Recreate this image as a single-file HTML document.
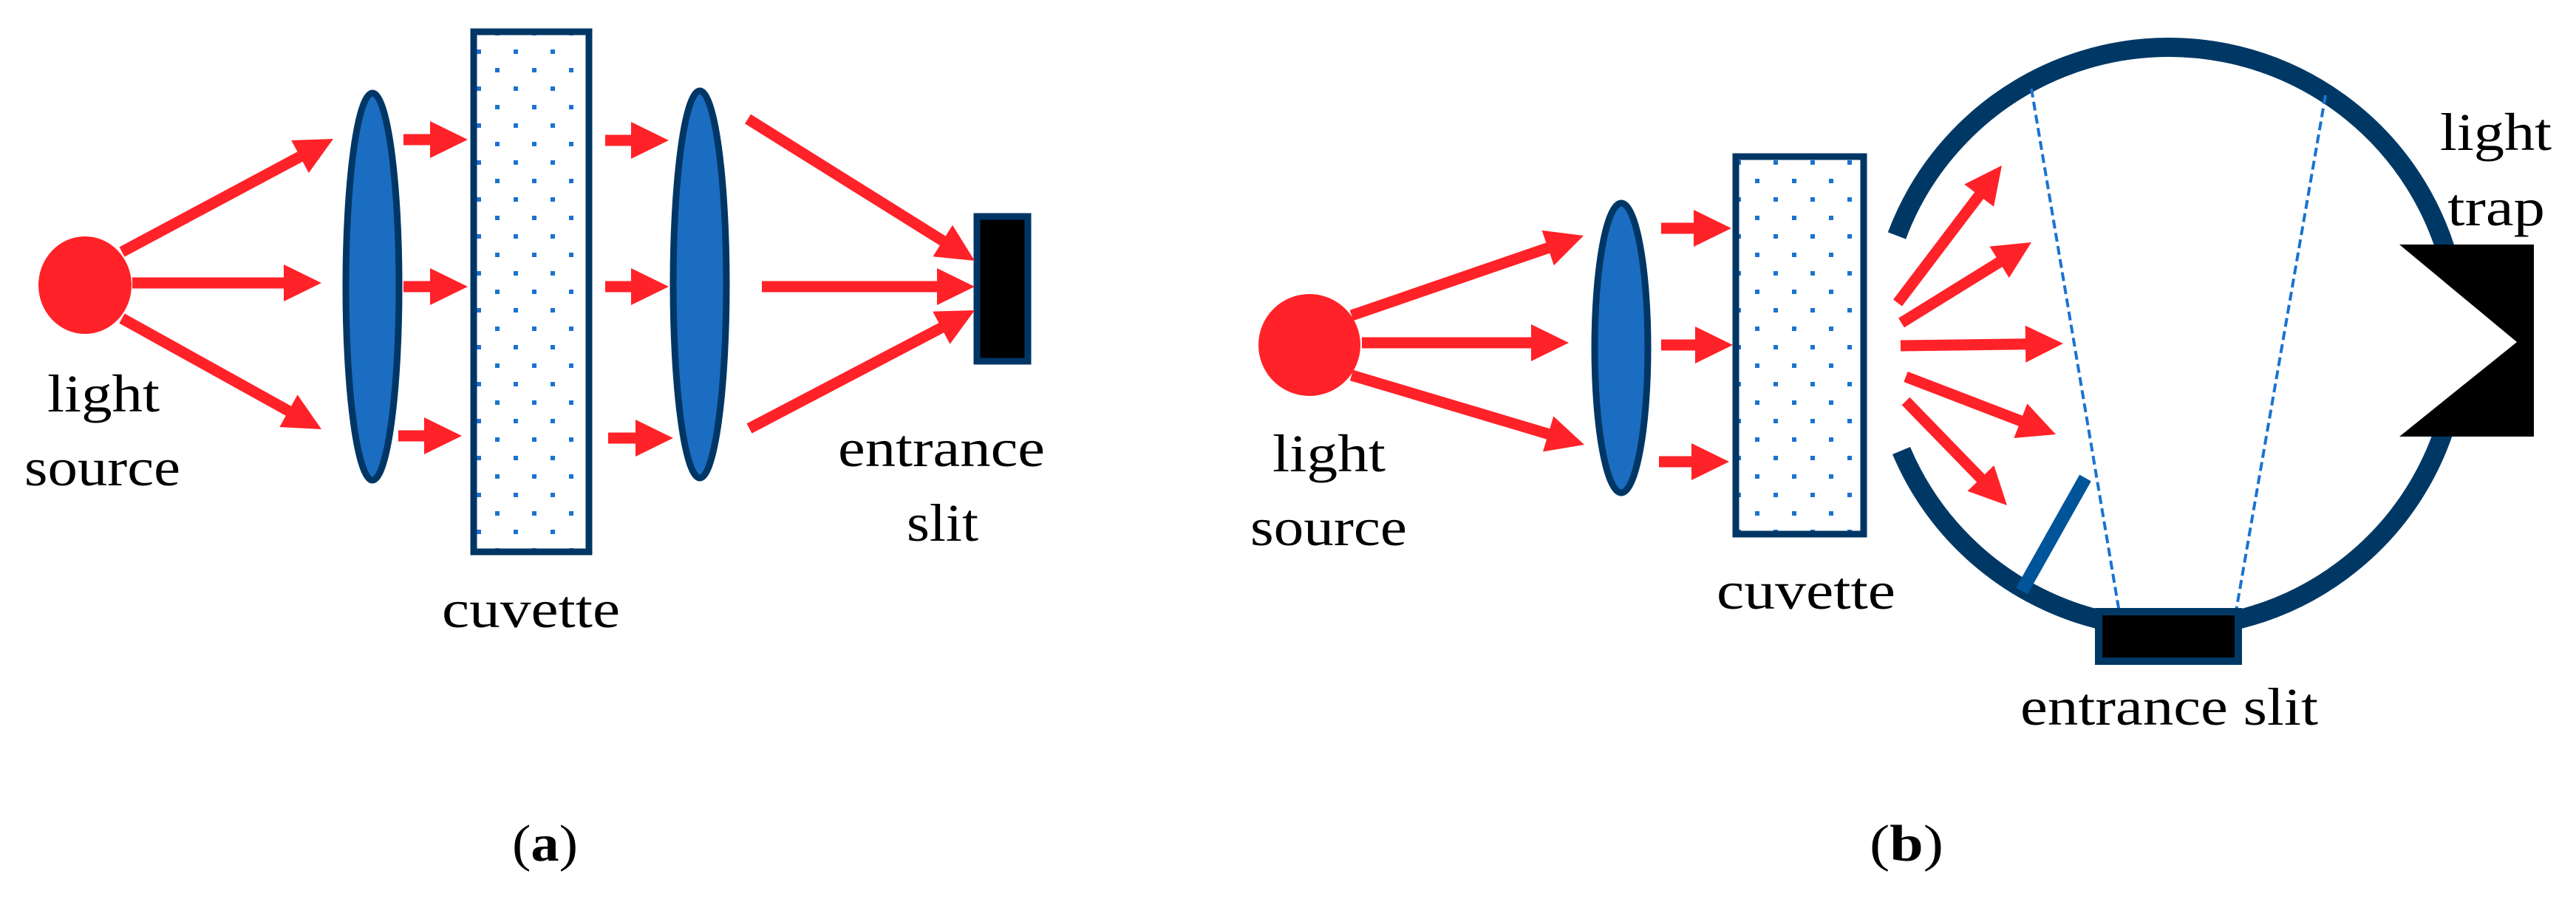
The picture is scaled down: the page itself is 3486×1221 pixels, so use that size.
<!DOCTYPE html>
<html><head><meta charset="utf-8"><style>
html,body{margin:0;padding:0;background:#fff;}
svg{display:block;}
text{font-family:"Liberation Serif",serif;fill:#000;}
</style></head><body>
<svg id="s" width="3486" height="1221" viewBox="0 0 3486 1221" xmlns="http://www.w3.org/2000/svg">
<defs>
<pattern id="pa" patternUnits="userSpaceOnUse" x="645" y="67" width="50" height="50">
<rect x="0" y="0" width="6" height="6" fill="#1a73d0"/><rect x="25" y="25" width="6" height="6" fill="#1a73d0"/>
</pattern>
<pattern id="pb" patternUnits="userSpaceOnUse" x="2350" y="217" width="50" height="50">
<rect x="0" y="0" width="6" height="6" fill="#1a73d0"/><rect x="25" y="25" width="6" height="6" fill="#1a73d0"/>
</pattern>
</defs>
<rect width="3486" height="1221" fill="#fff"/>

<!-- Panel a -->
<ellipse cx="115" cy="386" rx="63" ry="66" fill="#ff2228"/>
<ellipse cx="504" cy="388" rx="36" ry="262" fill="#1a6dc1" stroke="#003665" stroke-width="9"/>
<rect x="641" y="43" width="156" height="704" fill="url(#pa)" stroke="#003665" stroke-width="9"/>
<ellipse cx="947" cy="385" rx="36" ry="262" fill="#1a6dc1" stroke="#003665" stroke-width="9"/>
<rect x="1322" y="293" width="69" height="196" fill="#000" stroke="#003665" stroke-width="9"/>

<!-- Panel b -->
<ellipse cx="1772" cy="467" rx="69" ry="69" fill="#ff2228"/>
<ellipse cx="2194" cy="471" rx="36" ry="196" fill="#1a6dc1" stroke="#003665" stroke-width="9"/>
<rect x="2349" y="212" width="173" height="511" fill="url(#pb)" stroke="#003665" stroke-width="9"/>
<path d="M2567 319 A393 393 0 1 1 2573 610" fill="none" stroke="#003865" stroke-width="26"/>
<line x1="2749" y1="120" x2="2868" y2="829" stroke="#1a73d0" stroke-width="4" stroke-dasharray="12 6"/>
<line x1="3147" y1="129" x2="3026" y2="827" stroke="#1a73d0" stroke-width="4" stroke-dasharray="12 6"/>
<line x1="2822" y1="647" x2="2736" y2="800" stroke="#00549a" stroke-width="18"/>
<rect x="2840" y="828" width="189" height="67" fill="#000" stroke="#003865" stroke-width="10"/>
<polygon points="3247,331 3406,463 3247,591" fill="#fff"/>
<polygon points="3247,331 3429,331 3429,591 3247,591 3406,463" fill="#000"/>

<g id="arrows" fill="#ff2228"></g>

<text x="64" y="557" font-size="72" textLength="152" lengthAdjust="spacingAndGlyphs">light</text>
<text x="33" y="657" font-size="72" textLength="211" lengthAdjust="spacingAndGlyphs">source</text>
<text x="598" y="849" font-size="72" textLength="241" lengthAdjust="spacingAndGlyphs">cuvette</text>
<text x="1134" y="631" font-size="72" textLength="280" lengthAdjust="spacingAndGlyphs">entrance</text>
<text x="1227" y="732" font-size="72" textLength="97" lengthAdjust="spacingAndGlyphs">slit</text>
<text x="693" y="1165" font-size="70" textLength="89" lengthAdjust="spacingAndGlyphs">(<tspan font-weight="bold">a</tspan>)</text>

<text x="1722" y="638" font-size="72" textLength="153" lengthAdjust="spacingAndGlyphs">light</text>
<text x="1692" y="738" font-size="72" textLength="212" lengthAdjust="spacingAndGlyphs">source</text>
<text x="2323" y="824" font-size="72" textLength="242" lengthAdjust="spacingAndGlyphs">cuvette</text>
<text x="2734" y="981" font-size="72" textLength="403" lengthAdjust="spacingAndGlyphs">entrance slit</text>
<text x="3302" y="203" font-size="72" textLength="151" lengthAdjust="spacingAndGlyphs">light</text>
<text x="3312" y="305" font-size="72" textLength="132" lengthAdjust="spacingAndGlyphs">trap</text>
<text x="2530" y="1165" font-size="70" textLength="100" lengthAdjust="spacingAndGlyphs">(<tspan font-weight="bold">b</tspan>)</text>
</svg>
<script>
(function(){
var A=[
[165,341,451,188],[179,383,435,383],[165,431,435,581],
[546,189,633,189],[546,388,633,388],[539,590,625,590],
[819,190,905,190],[819,388,905,388],[823,593,911,593],
[1012,161,1319,353],[1031,388,1319,388],[1014,580,1319,420],
[1829,427,2143,319],[1843,464,2123,464],[1829,508,2144,602],
[2248,309,2343,309],[2248,467,2345,467],[2245,625,2340,625],
[2568,410,2709,224],[2573,437,2749,328],[2572,468,2792,465],[2579,510,2782,588],[2579,543,2716,684]
];
var g=document.getElementById('arrows'),ns='http://www.w3.org/2000/svg';
A.forEach(function(a){
 var x1=a[0],y1=a[1],x2=a[2],y2=a[3];
 var dx=x2-x1,dy=y2-y1,L=Math.sqrt(dx*dx+dy*dy),ux=dx/L,uy=dy/L,px=-uy,py=ux;
 var hl=51,hw=25,sw=7.5;
 var bx=x2-ux*hl,by=y2-uy*hl;
 var pts=[
  [x1+px*sw,y1+py*sw],[bx+px*sw,by+py*sw],[bx+px*hw,by+py*hw],[x2,y2],
  [bx-px*hw,by-py*hw],[bx-px*sw,by-py*sw],[x1-px*sw,y1-py*sw]];
 var p=document.createElementNS(ns,'polygon');
 p.setAttribute('points',pts.map(function(q){return q[0].toFixed(1)+','+q[1].toFixed(1)}).join(' '));
 g.appendChild(p);
});
})();
</script>
</body></html>
